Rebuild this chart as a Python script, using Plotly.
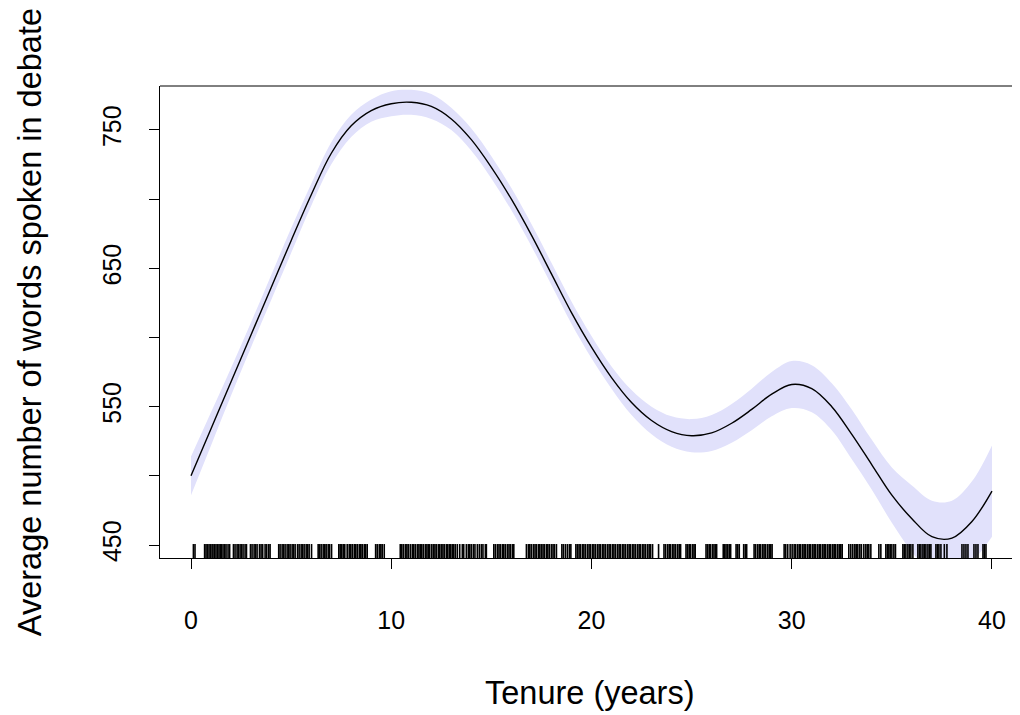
import plotly.graph_objects as go

# fitted smooth: tenure (years) vs average words spoken
tenure = list(range(0, 41))
fit = [500, 534, 568, 602, 636, 670, 703, 733, 753, 764,
       769, 770, 767, 758, 743, 723, 700, 674, 646, 618,
       593, 571, 553, 540, 532, 529, 531, 538, 548, 559,
       566, 563, 550, 530, 508, 486, 469, 456, 455, 467,
       489]
lower = [486, 522, 558, 593, 627, 661, 695, 725, 745, 756,
         760, 761, 758, 750, 735, 715, 692, 666, 638, 610,
         585, 563, 544, 530, 521, 517, 518, 524, 533, 543,
         549, 546, 533, 512, 490, 466, 445, 430, 428, 438,
         456]
upper = [514, 546, 578, 611, 645, 679, 711, 741, 761, 772,
         778, 779, 776, 766, 751, 731, 708, 682, 654, 626,
         601, 579, 562, 550, 543, 541, 544, 552, 563, 575,
         583, 580, 567, 548, 526, 506, 493, 482, 482, 496,
         522]

# rug of observed tenures
rug = [0.12, 0.2, 0.68, 0.75, 0.82, 0.9, 0.97,
       1.05, 1.1, 1.18, 1.25, 1.33, 1.4, 1.47, 1.52, 1.6, 1.68, 1.75, 1.85, 1.93,
       2.12, 2.2, 2.3, 2.36, 2.45, 2.52, 2.6, 2.7, 2.77, 2.97,
       3.05, 3.15, 3.22, 3.3, 3.42, 3.5, 3.58, 3.7, 3.78, 3.88, 3.95,
       4.38, 4.45, 4.55, 4.62, 4.7, 4.8, 4.88, 4.95,
       5.05, 5.12, 5.2, 5.32, 5.4, 5.5, 5.57, 5.65, 5.75, 5.82, 5.9, 6.02,
       6.35, 6.42, 6.5, 6.6, 6.68, 6.75, 6.85, 6.92,
       7.02, 7.38, 7.45, 7.52, 7.6, 7.68, 7.8, 7.9, 7.97,
       8.05, 8.15, 8.22, 8.3, 8.4, 8.48, 8.55, 8.65, 8.72, 8.8,
       9.22, 9.3, 9.4, 9.48, 9.55, 9.65,
       10.45, 10.52, 10.6, 10.7, 10.78, 10.85, 10.95,
       11.05, 11.12, 11.2, 11.3, 11.38, 11.45, 11.52, 11.6, 11.7, 11.78, 11.85, 11.92,
       12.02, 12.1, 12.18, 12.25, 12.35, 12.42, 12.5, 12.58, 12.65, 12.75, 12.82, 12.9, 12.97,
       13.05, 13.12, 13.2, 13.3, 13.42, 13.55, 13.62, 13.75, 13.85, 13.92,
       14.0, 14.1, 14.18, 14.3, 14.4, 14.5, 14.58, 14.7, 14.75,
       15.12, 15.2, 15.3, 15.38, 15.45, 15.55, 15.62, 15.7, 15.8, 15.88, 15.95,
       16.05, 16.12, 16.75, 16.85, 16.92,
       17.0, 17.1, 17.18, 17.25, 17.35, 17.42, 17.5, 17.58, 17.65, 17.75, 17.82, 17.9,
       18.0, 18.08, 18.15, 18.25, 18.52, 18.6, 18.7, 18.8, 18.9, 18.97,
       19.22, 19.3, 19.38, 19.45, 19.55, 19.62, 19.7, 19.8, 19.88, 19.95,
       20.05, 20.12, 20.2, 20.3, 20.38, 20.45, 20.55, 20.62, 20.7, 20.8, 20.88, 20.95,
       21.05, 21.12, 21.2, 21.3, 21.38, 21.45, 21.55, 21.62, 21.7, 21.8, 21.88, 21.95,
       22.05, 22.12, 22.2, 22.3, 22.38, 22.45, 22.55, 22.62, 22.7, 22.8, 22.88, 22.95,
       23.05, 23.35, 23.62, 23.7, 23.8, 23.88, 23.95,
       24.05, 24.12, 24.2, 24.3, 24.38, 24.45, 24.72, 24.8, 24.88, 24.95,
       25.05, 25.12, 25.18, 25.72, 25.8, 25.88, 25.95,
       26.05, 26.12, 26.2, 26.25, 26.58, 26.65, 26.72, 26.8, 26.88, 26.95,
       27.22, 27.3, 27.38, 27.6, 27.68, 27.75,
       28.12, 28.2, 28.3, 28.38, 28.45, 28.55, 28.62, 28.7, 28.8, 28.88, 28.95, 29.02,
       29.62, 29.7, 29.8, 29.92,
       30.02, 30.12, 30.2, 30.3, 30.38, 30.45, 30.55, 30.62, 30.7, 30.8, 30.88, 30.95,
       31.05, 31.12, 31.2, 31.3, 31.38, 31.45, 31.55, 31.62, 31.7, 31.8, 31.88, 31.95,
       32.05, 32.12, 32.2, 32.3, 32.38, 32.45, 32.52, 32.85, 32.95,
       33.05, 33.15, 33.22, 33.3, 33.4, 33.48, 33.6, 33.7, 33.78, 33.85, 33.95,
       34.35, 34.45, 34.7, 34.78, 34.85, 34.92, 35.0, 35.1, 35.18,
       35.55, 35.62, 35.7, 35.8, 35.88, 35.95, 36.05,
       36.3, 36.38, 36.45, 36.55, 36.62, 36.7, 36.8, 36.88, 36.95,
       37.2, 37.28, 37.35, 37.45, 37.62, 37.75,
       38.5, 38.6, 38.7, 38.8,
       39.1, 39.2, 39.3, 39.55, 39.62, 39.7]

y_lo, y_hi = 440.6, 781.8
rug_x, rug_y = [], []
for t in rug:
    rug_x += [t, t, None]
    rug_y += [y_lo, y_lo + 10.1, None]

font = "Liberation Sans, Arial, sans-serif"

fig = go.Figure()
fig.add_trace(go.Scatter(x=tenure, y=lower, mode="lines", line=dict(width=0, shape="spline"),
                         hoverinfo="skip", showlegend=False))
fig.add_trace(go.Scatter(x=tenure, y=upper, mode="lines", line=dict(width=0, shape="spline"),
                         fill="tonexty", fillcolor="#E1E1FB", hoverinfo="skip", showlegend=False))
fig.add_trace(go.Scatter(x=rug_x, y=rug_y, mode="lines", line=dict(color="black", width=1.6),
                         hoverinfo="skip", showlegend=False))
fig.add_trace(go.Scatter(x=tenure, y=fit, mode="lines",
                         line=dict(color="black", width=1.4, shape="spline"), showlegend=False))

# page body has an 8px margin, so the figure is 8px smaller than the window
fig.update_layout(
    width=1012, height=707,
    margin=dict(l=152, r=0, t=78, b=157),
    plot_bgcolor="white", paper_bgcolor="white",
    font=dict(family=font, size=25, color="black"),
    showlegend=False,
)
fig.update_xaxes(range=[-1.548, 41.399], tickvals=[0, 10, 20, 30, 40],
                 ticks="outside", ticklen=10, tickwidth=1, tickcolor="black",
                 showline=True, linecolor="black", linewidth=1,
                 showgrid=False, zeroline=False, ticklabelstandoff=30, automargin=False)
fig.update_yaxes(range=[y_lo, y_hi], tickvals=[450, 500, 550, 600, 650, 700, 750],
                 ticktext=["450", "", "550", "", "650", "", "750"], tickangle=-90,
                 ticks="outside", ticklen=10, tickwidth=1, tickcolor="black",
                 showline=True, linecolor="black", linewidth=1,
                 showgrid=False, zeroline=False, ticklabelstandoff=18, automargin=False)

# top edge of the box (right edge falls outside the picture)
fig.add_shape(type="line", xref="paper", yref="paper", x0=0, x1=1, y0=1, y1=1,
              line=dict(color="black", width=1))

fig.add_annotation(text="Tenure (years)", xref="paper", yref="paper", x=0.5, y=-0.286,
                   xanchor="center", yanchor="middle", showarrow=False,
                   font=dict(size=32.5))
fig.add_annotation(text="Average number of words spoken in debate", xref="paper", yref="paper",
                   x=-0.151, y=0.5, xanchor="center", yanchor="middle", textangle=-90,
                   showarrow=False, font=dict(size=32.5))

fig.write_html("out.html")
